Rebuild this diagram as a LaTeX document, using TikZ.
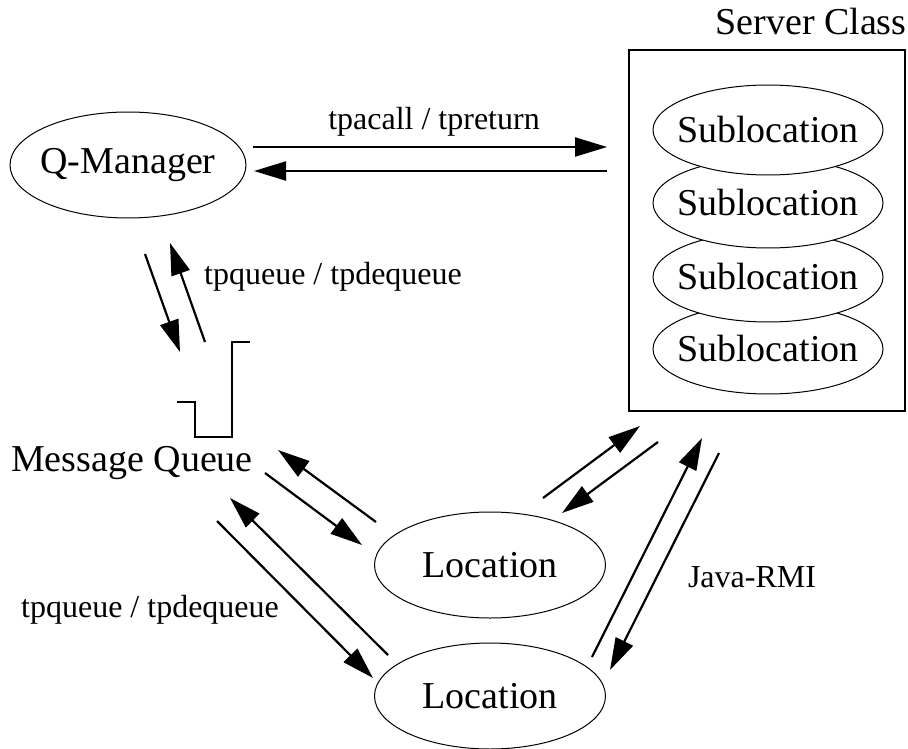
\documentclass[tikz,border=0pt]{standalone}
\usepackage{fontspec}
\setmainfont{Liberation Serif}
\usetikzlibrary{shapes.geometric,arrows.meta}
\begin{document}
\begin{tikzpicture}[x=1pt,y=-1pt,
    oval/.style={draw,ellipse,line width=1pt,inner ysep=0pt,inner xsep=-30pt,font=\fontsize{38}{42}\selectfont},
    msg/.style={line width=2.2pt,-{Triangle[length=32pt,width=19pt]}},
    lbl/.style={font=\fontsize{32}{35}\selectfont}]
    \useasboundingbox (0,0) rectangle (908,749);
    % nodes
    \node[oval,minimum width=236pt,minimum height=106pt] (qman) at (128,165) {Q-Manager};
    \node[font=\fontsize{38}{42}\selectfont] (mq) at (132,463) {Message Queue};
    \node[oval,minimum width=231pt,minimum height=106pt] (loc1) at (490,565) {Location};
    \node[oval,minimum width=231pt,minimum height=106pt] (loc2) at (490,696) {Location};
    \draw[line width=1.5pt] (629,50) rectangle (905,411);
    \node[font=\fontsize{38}{42}\selectfont] (sc) at (811,22) {Server Class};
    \foreach \y/\n in {349/4,277/3,203/2,130/1}
        \node[oval,fill=white,minimum width=230pt,minimum height=90pt] (sub\n) at (768,\y) {Sublocation};
    % queue
    \draw[line width=2pt] (177,402) -- (195,402) -- (195,437) -- (232,437) -- (232,342) -- (250,342);
    % arrow ends
    \coordinate (c1) at (253,147);
    \coordinate (c2) at (607,147);
    \coordinate (r1) at (607,171);
    \coordinate (r2) at (254,171);
    \coordinate (q1) at (145,254);
    \coordinate (q2) at (180,352);
    \coordinate (d1) at (205,342);
    \coordinate (d2) at (170,243);
    \coordinate (a1) at (376,522);
    \coordinate (a2) at (278,450);
    \coordinate (b1) at (265,473);
    \coordinate (b2) at (362,545);
    \coordinate (e1) at (388,655);
    \coordinate (e2) at (230,498);
    \coordinate (f1) at (217,521);
    \coordinate (f2) at (373,678);
    \coordinate (g1) at (543,498);
    \coordinate (g2) at (640,426);
    \coordinate (h1) at (658,442);
    \coordinate (h2) at (562,513);
    \coordinate (j1) at (592,657);
    \coordinate (j2) at (702,438);
    \coordinate (k1) at (719,453);
    \coordinate (k2) at (610,670);
    % arrows
    \draw[msg] (c1) -- (c2);
    \draw[msg] (r1) -- (r2);
    \draw[msg] (q1) -- (q2);
    \draw[msg] (d1) -- (d2);
    \draw[msg] (a1) -- (a2);
    \draw[msg] (b1) -- (b2);
    \draw[msg] (e1) -- (e2);
    \draw[msg] (f1) -- (f2);
    \draw[msg] (g1) -- (g2);
    \draw[msg] (h1) -- (h2);
    \draw[msg] (j1) -- (j2);
    \draw[msg] (k1) -- (k2);
    % labels
    \node[lbl] (call) at (434,122) {tpacall / tpreturn};
    \node[lbl] (tq1) at (333,277) {tpqueue / tpdequeue};
    \node[lbl] (tq2) at (150,610) {tpqueue / tpdequeue};
    \node[lbl] (rmi) at (752,577) {Java-RMI};
\end{tikzpicture}
\end{document}
